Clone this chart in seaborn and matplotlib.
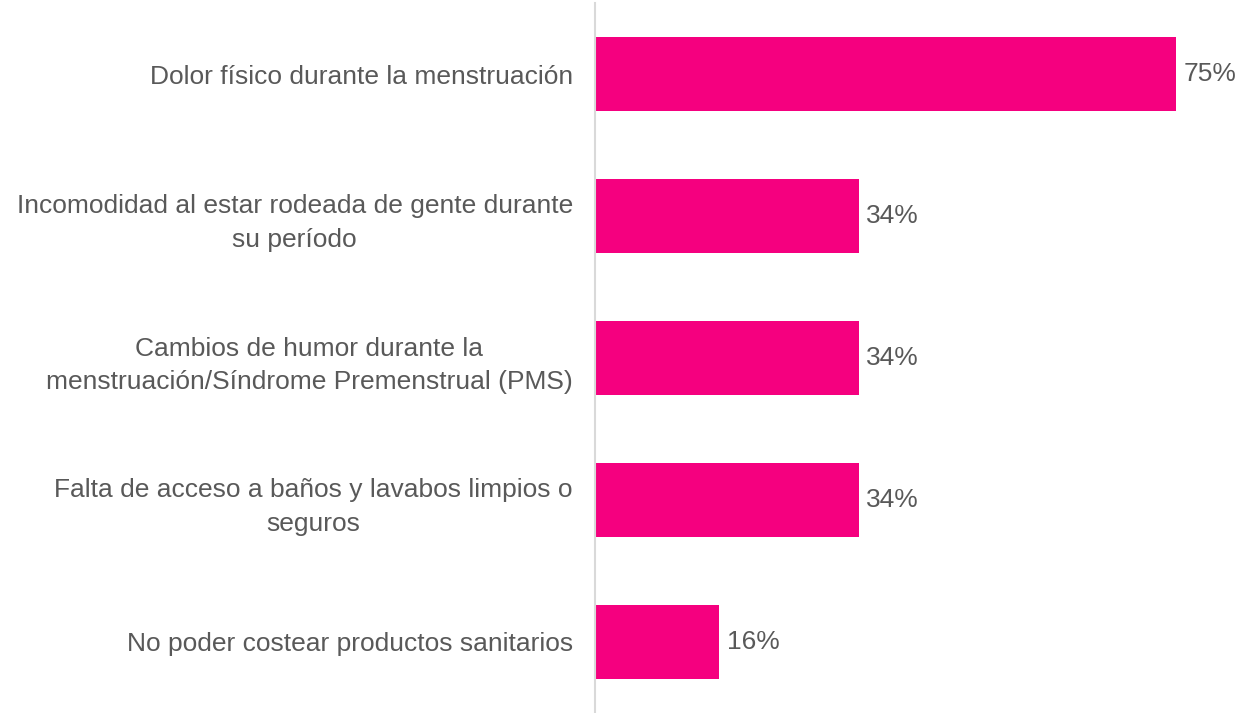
import matplotlib
matplotlib.use("Agg")
import matplotlib.pyplot as plt
import seaborn as sns
import pandas as pd

categories = [
    "Dolor físico durante la menstruación",
    "Incomodidad al estar rodeada de gente durante\nsu período",
    "Cambios de humor durante la\nmenstruación/Síndrome Premenstrual (PMS)",
    "Falta de acceso a baños y lavabos limpios o\nseguros",
    "No poder costear productos sanitarios",
]
values = [75, 34, 34, 34, 16]

df = pd.DataFrame({"cat": categories, "val": values})

sns.set_theme(style="white")
plt.rcParams["font.family"] = ["Liberation Sans", "DejaVu Sans"]

fig = plt.figure(figsize=(12.38, 7.13), dpi=100)
ax = fig.add_axes([595 / 1238, 0 / 713, (1215 - 595) / 1238, 710 / 713])

sns.barplot(data=df, x="val", y="cat", color="#F5007F", saturation=1,
            width=0.52, linewidth=0, ax=ax)

ax.set_xlim(0, 80)
ax.set_ylim(4.5, -0.5)
ax.set_xlabel("")
ax.set_ylabel("")
ax.set_xticks([])
for s in ["top", "right", "bottom"]:
    ax.spines[s].set_visible(False)
ax.spines["left"].set_color("#D9D9D9")
ax.spines["left"].set_linewidth(1.5)

ax.tick_params(axis="y", length=0, pad=16, labelsize=19, labelcolor="#595959")
for lbl in ax.get_yticklabels():
    lbl.set_multialignment("center")
    lbl.set_linespacing(1.5)

for i, v in enumerate(values):
    ax.text(v + 1.0, i, f"{v}%", va="center", ha="left", fontsize=19,
            color="#595959", clip_on=False)

fig.savefig("out.png", dpi=100)
